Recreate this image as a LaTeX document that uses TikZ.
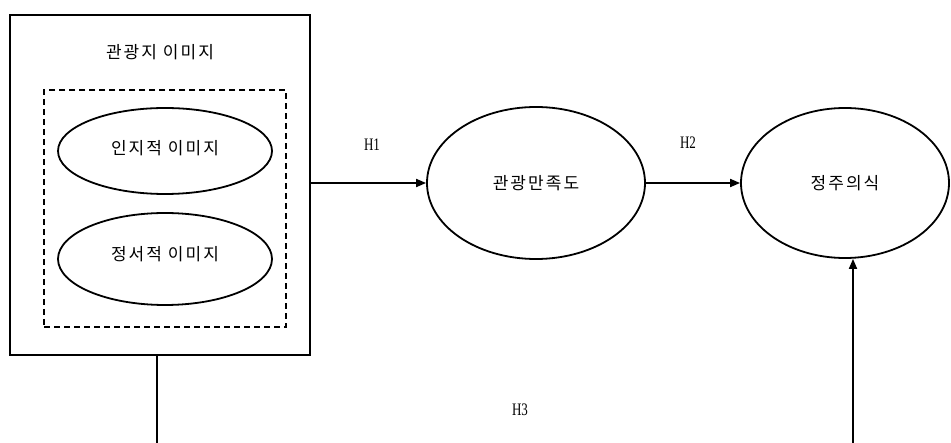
\documentclass[tikz,border=0pt]{standalone}
\usepackage{fontspec}
\usepackage{graphicx}
\newfontfamily\kr[LetterSpace=12]{Noto Sans CJK KR}
\newfontfamily\hserif{Liberation Serif}
\usetikzlibrary{shapes.geometric,arrows.meta}
\begin{document}
\begin{tikzpicture}[x=1pt,y=-1pt,line width=1.8pt,
  krtext/.style={font=\kr\fontsize{17}{17}\selectfont},
  hlabel/.style={font=\hserif\fontsize{13}{13}\selectfont},
  frame/.style={draw,rectangle,inner sep=0pt},
  oval/.style={draw,ellipse,inner sep=0pt,krtext},
  link/.style={-{Triangle[length=10pt,width=8pt]}}]
\useasboundingbox (0,0) rectangle (951,443);
\fill[white] (0,0) rectangle (951,443);
% outer box
\node[frame,minimum width=300pt,minimum height=340pt] (img) at (160,185) {};
\node[krtext] (imgtitle) at (160,52) {관광지 이미지};
% dashed box
\node[frame,dashed,dash pattern=on 6pt off 4pt,minimum width=242pt,minimum height=237pt] (sub) at (165,208.5) {};
% inner ellipses
\node[oval,minimum width=214pt,minimum height=86pt] (cog) at (165,151) {\raisebox{8pt}{인지적 이미지}};
\node[oval,minimum width=214pt,minimum height=92pt] (emo) at (165,259) {\raisebox{11pt}{정서적 이미지}};
% right ellipses
\node[oval,minimum width=218pt,minimum height=152pt] (sat) at (536,183) {관광만족도};
\node[oval,minimum width=208pt,minimum height=150pt] (res) at (845,183) {정주의식};
% labels
\node[hlabel] (h1) at (372,145) {\scalebox{1}[1.35]{H1}};
\node[hlabel] (h2) at (688,143) {\scalebox{1}[1.35]{H2}};
\node[hlabel] (h3) at (520,410) {\scalebox{1}[1.35]{H3}};
% connectors
\draw[link] (sat.west -| img.east) -- (sat.west);
\draw[link] (sat.east) -- (res.west);
\coordinate (b1) at (157,445);
\coordinate (b2) at (853,445);
\draw (img.south -| b1) -- (b1);
\draw[link] (b2) -- (b2 |- res.south);
\end{tikzpicture}
\end{document}
